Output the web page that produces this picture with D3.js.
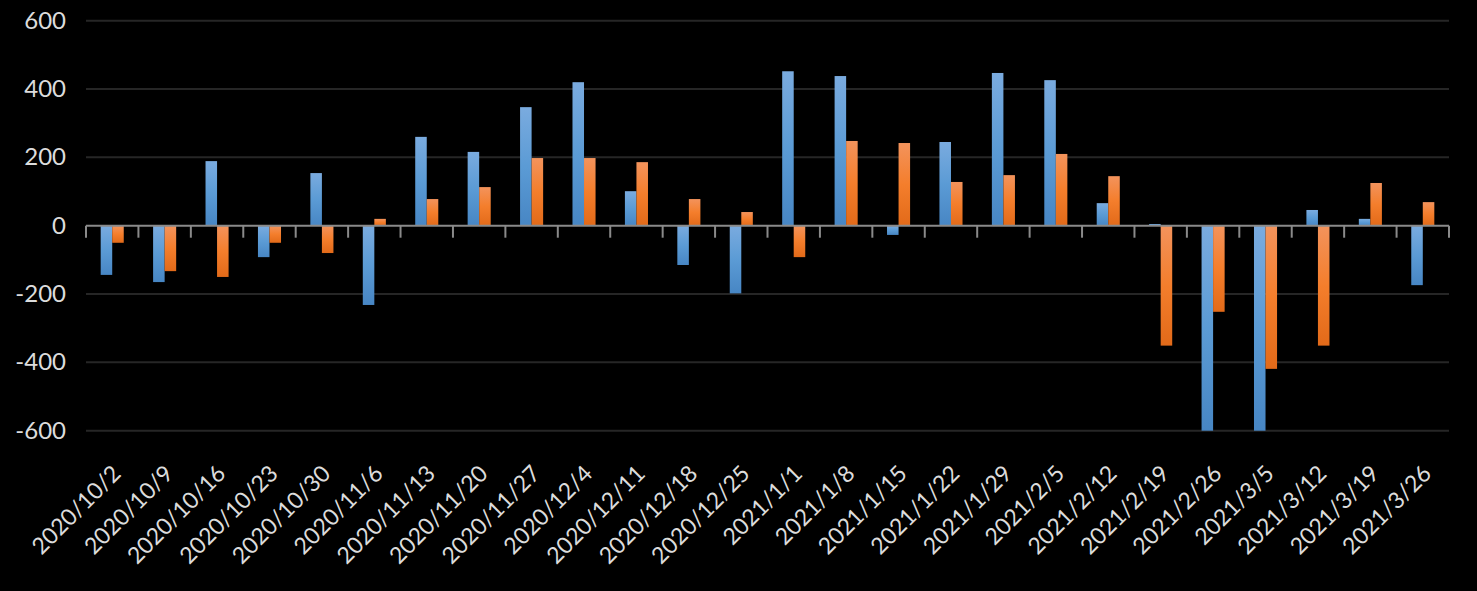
<!DOCTYPE html>
<html>
<head>
<meta charset="utf-8">
<script src="https://cdn.jsdelivr.net/npm/d3@7"></script>
<style>
  html, body { margin: 0; padding: 0; background: #000; }
  svg { display: block; }
  text { font-family: Lato, "Liberation Sans", Arial, sans-serif; }
</style>
</head>
<body>
<svg id="chart" width="1477" height="591"></svg>
<script>
const categories = ["2020/10/2","2020/10/9","2020/10/16","2020/10/23","2020/10/30","2020/11/6","2020/11/13","2020/11/20","2020/11/27","2020/12/4","2020/12/11","2020/12/18","2020/12/25","2021/1/1","2021/1/8","2021/1/15","2021/1/22","2021/1/29","2021/2/5","2021/2/12","2021/2/19","2021/2/26","2021/3/5","2021/3/12","2021/3/19","2021/3/26"];
const seriesBlue = [-144,-165,189,-92,154,-232,260,216,347,420,101,-115,-198,452,438,-27,245,447,426,66,5,-600,-600,46,20,-174];
const seriesOrange = [-50,-133,-150,-50,-80,20,78,113,198,198,186,78,40,-92,248,242,128,148,210,145,-351,-252,-419,-351,125,69];
const yTicks = [-600,-400,-200,0,200,400,600];

const plotLeft = 86, plotRight = 1449, plotTop = 20.7, plotBottom = 430.7;

const svg = d3.select("#chart");
const defs = svg.append("defs");

function grad(id, c1, c2, c3) {
  const g = defs.append("linearGradient").attr("id", id)
    .attr("x1", 0).attr("y1", 0).attr("x2", 0).attr("y2", 1);
  g.append("stop").attr("offset", "0%").attr("stop-color", c1);
  g.append("stop").attr("offset", "50%").attr("stop-color", c2);
  g.append("stop").attr("offset", "100%").attr("stop-color", c3);
}
grad("gBlue", "#7aabdf", "#5b9bd5", "#4786c4");
grad("gOrange", "#f3935c", "#f47e2c", "#e26a19");

defs.append("clipPath").attr("id", "plotClip")
  .append("rect").attr("x", plotLeft).attr("y", plotTop - 1)
  .attr("width", plotRight - plotLeft).attr("height", plotBottom - plotTop + 2);

const x = d3.scaleBand().domain(categories).range([plotLeft, plotRight]).paddingInner(0).paddingOuter(0);
const y = d3.scaleLinear().domain([-600, 600]).range([plotBottom, plotTop]);
const barW = x.bandwidth() * 0.22;
const groupOffset = (x.bandwidth() - 2 * barW) / 2;

// gridlines
svg.append("g").selectAll("line").data(yTicks.filter(d => d !== 0)).join("line")
  .attr("x1", plotLeft).attr("x2", plotRight)
  .attr("y1", d => y(d)).attr("y2", d => y(d))
  .attr("stroke", "#262626").attr("stroke-width", 2);

// y axis labels
svg.append("g").selectAll("text").data(yTicks).join("text")
  .attr("x", 66).attr("y", d => y(d) + 2)
  .attr("text-anchor", "end").attr("dominant-baseline", "middle")
  .attr("fill", "#dcdcdc").attr("font-size", 24)
  .text(d => d);

// bars
const bars = svg.append("g").attr("clip-path", "url(#plotClip)");
const series = [
  {vals: seriesBlue, fill: "url(#gBlue)", k: 0},
  {vals: seriesOrange, fill: "url(#gOrange)", k: 1}
];
series.forEach(s => {
  bars.append("g").selectAll("rect").data(categories).join("rect")
    .attr("x", (c) => x(c) + groupOffset + s.k * barW)
    .attr("width", barW)
    .attr("y", (c, i) => Math.min(y(s.vals[i]), y(0)))
    .attr("height", (c, i) => Math.abs(y(s.vals[i]) - y(0)))
    .attr("fill", s.fill);
});

// zero axis line and ticks
const axisG = svg.append("g");
axisG.append("line").attr("x1", plotLeft).attr("x2", plotRight).attr("y1", y(0)).attr("y2", y(0))
  .attr("stroke", "#8a8a8a").attr("stroke-width", 2);
const boundaries = categories.map(c => x(c)).concat([plotRight]);
axisG.selectAll("line.tick").data(boundaries).join("line").attr("class", "tick")
  .attr("x1", d => d).attr("x2", d => d)
  .attr("y1", y(0)).attr("y2", y(0) + 12)
  .attr("stroke", "#8a8a8a").attr("stroke-width", 2);

// x labels
svg.append("g").selectAll("text").data(categories).join("text")
  .attr("transform", c => `translate(${x(c) + x.bandwidth() / 2 + 10},${475}) rotate(-45)`)
  .attr("text-anchor", "end")
  .attr("fill", "#dcdcdc").attr("font-size", 23)
  .text(c => c);
</script>
</body>
</html>
